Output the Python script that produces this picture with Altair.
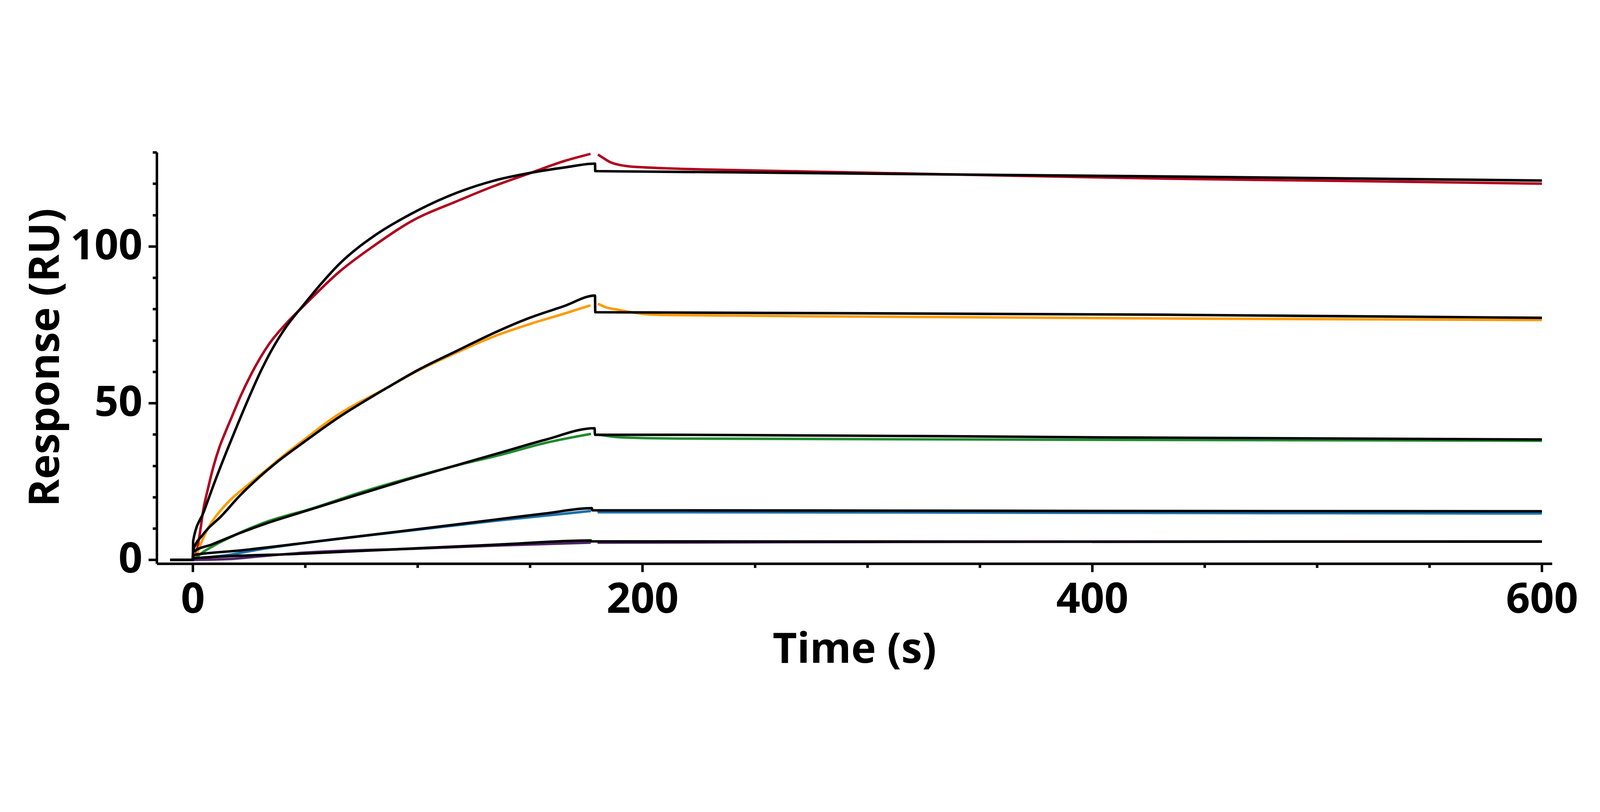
import altair as alt
import pandas as pd

# ---------------- data ----------------
red_t_a = [-10, 0, 1.5, 3.1, 4.7, 6.8, 9.3, 11.8, 14.6, 17.3, 21, 25.9, 33.8, 41.7, 49.6, 65.2, 81, 96.7, 117.8, 134.2, 149.8, 165.6, 176.9]
red_r_a = [0, 0, 1.9, 8.2, 16.0, 22.8, 30.0, 35.8, 40.9, 45.5, 51.8, 59.1, 68.7, 75.5, 81.2, 91.9, 100.4, 107.8, 114.5, 119.3, 123.3, 127.3, 129.5]
red_t_d = [180.2, 183, 185.3, 189, 193.1, 201, 210, 230, 300, 432, 520, 600]
red_r_d = [129.3, 128.0, 127.0, 126.1, 125.6, 125.2, 124.9, 124.5, 123.5, 121.6, 120.8, 120.0]

orange_t_a = [-10, 0, 1.0, 3.1, 6.4, 10.5, 16.7, 24.9, 33.1, 41.3, 49.5, 62.9, 86.9, 100, 117.8, 134, 149.8, 165, 176.9]
orange_r_a = [0, 0, 0.5, 4.3, 9.6, 14.1, 19.1, 24.1, 28.9, 33.8, 38.3, 45.5, 55.1, 60.3, 66.3, 71.3, 75.2, 78.5, 81.2]
orange_t_d = [180.2, 184, 189, 195, 201, 210, 300, 432, 600]
orange_r_d = [81.7, 80.5, 79.8, 79.0, 78.4, 78.1, 77.6, 77.0, 76.5]

green_t_a = [-10, 0, 1.0, 3.1, 8.8, 17, 25.2, 33.4, 41.6, 49.8, 75, 100, 120, 136.3, 156.7, 177.1]
green_r_a = [0, 0, 0.3, 1.7, 4.3, 7.3, 10.0, 12.3, 14.1, 15.7, 21.6, 26.8, 30.6, 33.4, 37.3, 40.2]
green_t_d = [180, 190, 216, 400, 600]
green_r_d = [40.0, 39.1, 38.7, 38.3, 38.0]

blue_t_a = [-10, 0, 3, 17, 29.3, 49.8, 100, 136.3, 156.7, 177.1]
blue_r_a = [0, 0, 0.4, 1.7, 3.3, 5.4, 9.6, 12.6, 14.1, 15.6]
blue_t_d = [180, 216, 400, 600]
blue_r_d = [15.2, 15.2, 15.0, 14.8]

purple_t_a = [-10, 0, 17, 29.3, 49.8, 100, 136.3, 177]
purple_r_a = [0, 0, 0.3, 1.1, 2.3, 3.6, 4.6, 5.5]
purple_t_d = [180, 300, 600]
purple_r_d = [5.5, 5.7, 5.9]

# fitted curves (black)
red_fit_t = [-10, 0, 0.2, 5, 10, 15, 20, 25, 30, 35, 41.7, 49.6, 57, 65.2, 81, 96.7, 117.8, 134.2, 149.8, 165.6, 178.9, 179.0, 210, 432, 600]
red_fit_r = [0, 0, 6.1, 15.5, 25.3, 34.5, 43.3, 51.8, 59.8, 66.8, 74.5, 81.6, 88.0, 94.4, 103.5, 110.2, 117.2, 121.0, 123.4, 125.2, 126.4, 124.0, 123.8, 122.3, 121.0]

orange_fit_t = [-10, 0, 0.2, 4.7, 12.9, 21.1, 29.3, 37.5, 49.5, 62.9, 86.9, 100, 117.8, 134, 149.8, 165, 178.9, 179.0, 210, 432, 600]
orange_fit_r = [0, 0, 3.0, 8.2, 14.1, 20.6, 26.2, 31.2, 37.6, 44.5, 55.1, 60.5, 66.8, 72.4, 77.2, 80.9, 84.3, 79.0, 78.9, 78.2, 77.2]

green_fit_t = [-10, 0, 0.2, 8.8, 21.1, 33.4, 49.8, 100, 136.3, 156.7, 178.7, 178.9, 216, 400, 600]
green_fit_r = [0, 0, 2.5, 5.0, 8.6, 11.8, 15.5, 26.6, 34.1, 38.3, 42.0, 39.9, 39.9, 39.1, 38.4]

blue_fit_t = [-10, 0, 0.2, 21.1, 49.8, 100, 136.3, 156.7, 177.5, 177.7, 216, 400, 600]
blue_fit_r = [0, 0, 1.5, 3.0, 5.4, 9.8, 13.0, 14.8, 16.5, 15.8, 15.8, 15.6, 15.5]

purple_fit_t = [-10, 0, 0.2, 49.8, 100, 136.3, 177, 177.2, 600]
purple_fit_r = [0, 0, 0.5, 2.0, 3.7, 4.9, 6.2, 5.9, 5.8]

series_names = ["red", "orange", "green", "blue", "purple"]
series_colors = ["#B0001E", "#FF9A00", "#1F8A2E", "#1A70AA", "#4E2466"]

x_ticks = list(range(0, 601, 50))
y_ticks = list(range(0, 131, 10))

# ---------------- build tables ----------------
measured = {
    "red": [(red_t_a, red_r_a), (red_t_d, red_r_d)],
    "orange": [(orange_t_a, orange_r_a), (orange_t_d, orange_r_d)],
    "green": [(green_t_a, green_r_a), (green_t_d, green_r_d)],
    "blue": [(blue_t_a, blue_r_a), (blue_t_d, blue_r_d)],
    "purple": [(purple_t_a, purple_r_a), (purple_t_d, purple_r_d)],
}
fits = {
    "red": (red_fit_t, red_fit_r),
    "orange": (orange_fit_t, orange_fit_r),
    "green": (green_fit_t, green_fit_r),
    "blue": (blue_fit_t, blue_fit_r),
    "purple": (purple_fit_t, purple_fit_r),
}

rows = []
for name in series_names:
    for seg, (ts, rs) in enumerate(measured[name]):
        for t, r in zip(ts, rs):
            rows.append({"series": name, "seg": f"{name}-{seg}", "t": t, "r": r})
df_meas = pd.DataFrame(rows)

rows = []
for name in series_names:
    ts, rs = fits[name]
    for t, r in zip(ts, rs):
        rows.append({"series": name, "t": t, "r": r})
df_fit = pd.DataFrame(rows)

FONT = "Open Sans"
PLOT_H = 1482

x_scale = alt.Scale(domain=[-16, 604.5], nice=False, zero=False)
y_scale = alt.Scale(domain=[-1.2, 130], nice=False, zero=False)

x_axis = alt.Axis(
    values=x_ticks,
    labelExpr="datum.value % 200 === 0 ? datum.label : ''",
    tickSize={"condition": {"test": "datum.value % 200 === 0", "value": 30}, "value": 15},
    tickWidth=9, tickColor="black",
    domainWidth=9, domainColor="black",
    labelFont=FONT, labelFontSize=152, labelFontWeight="bold", labelColor="black",
    labelPadding=27, labelFlush=False, labelOverlap=False, labelLimit=2000,
    title="Time (s)", titleFont=FONT, titleFontSize=152, titleFontWeight="bold",
    titleColor="black", titleLimit=4000, titleBaseline="alphabetic",
    titleY=358, grid=False,
)
y_axis = alt.Axis(
    values=y_ticks,
    labelExpr="datum.value % 50 === 0 ? datum.label : ''",
    tickSize={"condition": {"test": "datum.value % 50 === 0", "value": 30}, "value": 15},
    tickWidth=9, tickColor="black",
    domainWidth=9, domainColor="black",
    labelFont=FONT, labelFontSize=152, labelFontWeight="bold", labelColor="black",
    labelPadding=22, labelFlush=False, labelOverlap=False, labelLimit=2000,
    title="Response (RU)", titleFont=FONT, titleFontSize=152, titleFontWeight="bold",
    titleColor="black", titleLimit=4000, titleBaseline="alphabetic",
    titleAngle=270, titleAlign="center", titleX=-354, titleY=PLOT_H / 2, grid=False,
)

meas = alt.Chart(df_meas).mark_line(strokeWidth=9, interpolate="monotone").encode(
    x=alt.X("t:Q", scale=x_scale, axis=x_axis),
    y=alt.Y("r:Q", scale=y_scale, axis=y_axis),
    color=alt.Color("series:N", scale=alt.Scale(domain=series_names, range=series_colors), legend=None),
    detail="seg:N",
    order=alt.Order("t:Q"),
)

fit = alt.Chart(df_fit).mark_line(strokeWidth=9, interpolate="monotone", color="black").encode(
    x=alt.X("t:Q", scale=x_scale, axis=x_axis),
    y=alt.Y("r:Q", scale=y_scale, axis=y_axis),
    detail="series:N",
    order=alt.Order("t:Q"),
)

chart = alt.layer(meas, fit).properties(
    width=5757,
    height=2063,
    autosize=alt.AutoSizeParams(type="fit", contains="padding"),
    padding={"left": 79, "top": 39, "right": 73, "bottom": 74},
    background="white",
).configure_view(stroke=None)

chart.save("out.html", embed_options={"renderer": "svg", "actions": False})
